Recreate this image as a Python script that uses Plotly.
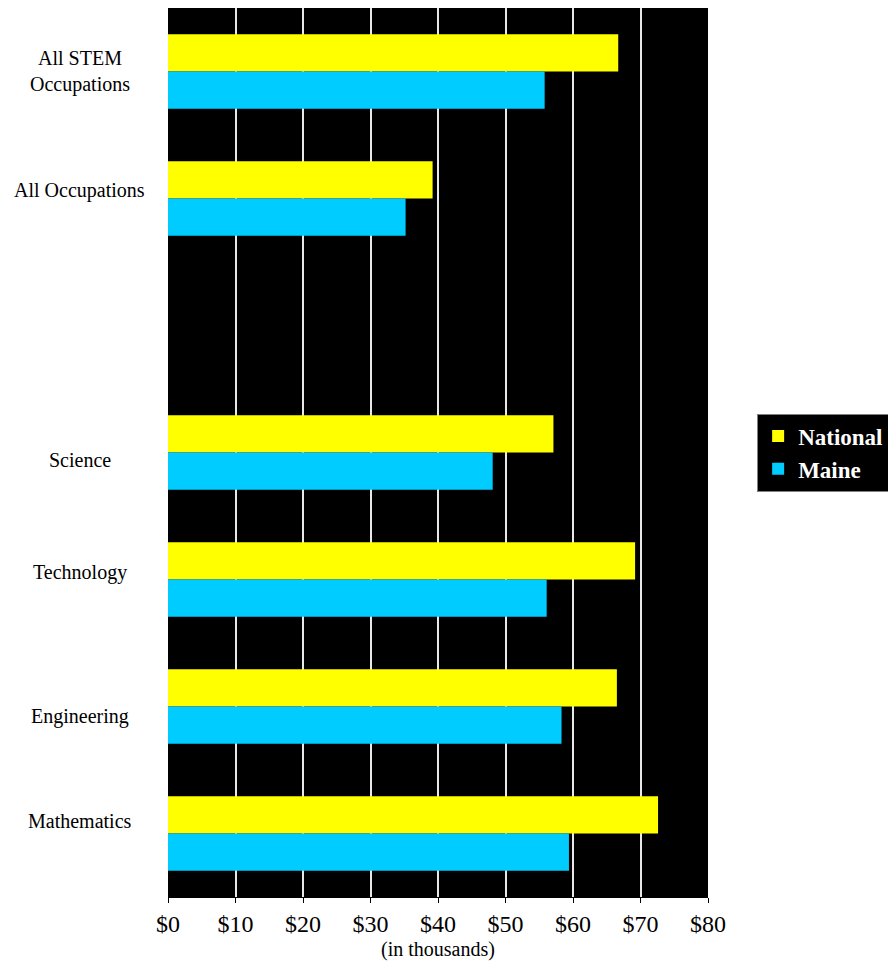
import plotly.graph_objects as go

categorias = ['All STEM<br>Occupations', 'All Occupations', ' ', 'Science',
              'Technology', 'Engineering', 'Mathematics']
nacional = [66.7, 39.2, None, 57.1, 69.2, 66.5, 72.6]
maine = [55.8, 35.2, None, 48.1, 56.1, 58.3, 59.4]

# small vertical nudges of the category labels, as in the original
desplaz_etiq = [0, 8, 0, -7, 7, -10, 13]

fuente = 'Liberation Serif, Times New Roman, serif'

fig = go.Figure()

fig.add_trace(go.Bar(
    y= categorias,
    x= nacional,
    orientation= 'h',
    name= '<b>National</b>',
    marker= dict(color= '#ffff00', line= dict(width=0))
))

fig.add_trace(go.Bar(
    y= categorias,
    x= maine,
    orientation= 'h',
    name= '<b>Maine</b>',
    marker= dict(color= '#00ccff', line= dict(width=0))
))

for cat, dy in zip(categorias, desplaz_etiq):
    if cat.strip() == '':
        continue
    fig.add_annotation(
        x= -0.163, xref= 'paper', xanchor= 'center',
        y= cat, yref= 'y', yshift= dy,
        text= cat, showarrow= False,
        font= dict(family= fuente, size= 20, color= 'black')
    )

# la pagina tiene 8px de margen en el body
fig.update_layout(
    width= 888,
    height= 954,
    barmode= 'group',
    bargap= 0.415,
    bargroupgap= 0,
    plot_bgcolor= 'black',
    paper_bgcolor= 'white',
    margin= dict(l=160, r=188, t=0, b=65),
    font= dict(family= fuente, color= 'black'),
    legend= dict(
        x= 1.091, y= 0.5, xanchor= 'left', yanchor= 'middle',
        bgcolor= 'black', bordercolor= '#808080', borderwidth= 1,
        font= dict(family= fuente, size= 23, color= 'white'),
        traceorder= 'normal',
        itemwidth= 30,
        tracegroupgap= 0
    )
)

fig.update_xaxes(
    range= [0, 80],
    dtick= 10,
    tickprefix= '$',
    showgrid= True,
    gridcolor= '#e8e8e8',
    gridwidth= 2,
    zeroline= False,
    showline= True,
    linecolor= 'black',
    linewidth= 1,
    ticks= 'outside',
    ticklen= 5,
    tickcolor= 'black',
    tickfont= dict(family= fuente, size= 24, color= 'black'),
    title= dict(text= '(in thousands)', standoff= 6,
                font= dict(family= fuente, size= 20, color= 'black'))
)

fig.update_yaxes(
    categoryorder= 'array',
    categoryarray= categorias,
    range= [6.5, -0.5],
    showticklabels= False,
    showgrid= False,
    zeroline= False,
    ticks= ''
)

fig.write_html("out.html")
